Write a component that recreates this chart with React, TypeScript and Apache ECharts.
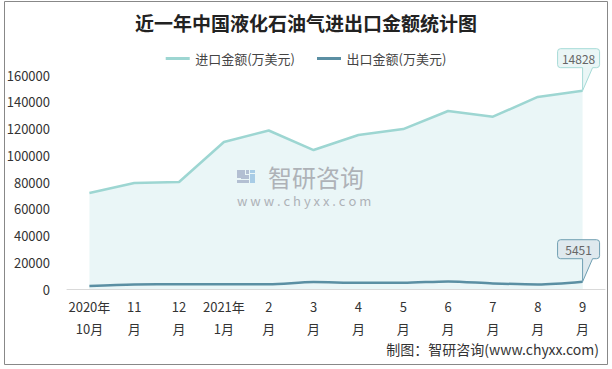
import React, { useEffect, useRef } from "react";
import * as echarts from "echarts";

const categories = ["2020年\n10月", "11\n月", "12\n月", "2021年\n1月", "2\n月", "3\n月", "4\n月", "5\n月", "6\n月", "7\n月", "8\n月", "9\n月"];
const importValues = [71800, 79300, 80000, 109900, 118500, 103900, 115100, 119600, 133100, 128800, 143600, 148280];
const exportValues = [2300, 3400, 3500, 3500, 3500, 5200, 4600, 4600, 5700, 4200, 3400, 5451];
const yTicks = [0, 20000, 40000, 60000, 80000, 100000, 120000, 140000, 160000];

const calloutPath = "path://M3,0 L39,0 Q42,0 42,3 L42,16 Q42,19 39,19 L35,19 L25,42 L25,19 L3,19 Q0,19 0,16 L0,3 Q0,0 3,0 Z";
const legendIcon = "path://M0,0 L24,0 L24,3 L0,3 Z";

export default function App() {
  const ref = useRef<HTMLDivElement>(null);
  useEffect(() => {
    document.body.style.margin = "0";
    const chart = echarts.init(ref.current!, null, { renderer: "svg" });
    const font = "'Noto Sans CJK SC', 'Noto Sans', sans-serif";
    const wm = "#aeb2b7";
    chart.setOption({
      animation: false,
      textStyle: { fontFamily: font },
      title: {
        text: "近一年中国液化石油气进出口金额统计图",
        left: "center",
        top: 8,
        textStyle: { fontSize: 19, fontWeight: "bold", color: "#222", fontFamily: font },
      },
      legend: {
        top: 47,
        left: "center",
        itemWidth: 25,
        itemHeight: 3,
        itemGap: 22,
        textStyle: { fontSize: 13, color: "#444" },
        data: [
          { name: "进口金额(万美元)", icon: legendIcon },
          { name: "出口金额(万美元)", icon: legendIcon },
        ],
      },
      grid: { left: 67, right: 7, top: 75, bottom: 80, containLabel: false },
      xAxis: {
        type: "category",
        data: categories,
        boundaryGap: true,
        axisLine: { lineStyle: { color: "#d9d9d9", width: 1 } },
        axisTick: { show: false },
        axisLabel: { color: "#333", fontSize: 13, lineHeight: 22, margin: 6, interval: 0 },
      },
      yAxis: {
        type: "value",
        min: yTicks[0],
        max: yTicks[yTicks.length - 1],
        interval: 20000,
        splitLine: { show: false },
        axisLine: { show: false },
        axisTick: { show: false },
        axisLabel: { color: "#333", fontSize: 13, margin: 17, formatter: (v: number) => String(v) },
      },
      graphic: [
        {
          type: "rect",
          shape: { x: 4.5, y: 1.5, width: 603, height: 363 },
          style: { fill: "none", stroke: "#888", lineWidth: 1 },
          silent: true,
          z: 0,
        },
        { type: "rect", z: 100, silent: true, shape: { x: 237, y: 170, width: 8, height: 8 }, style: { fill: "#b3bfd2" } },
        { type: "rect", z: 100, silent: true, shape: { x: 246, y: 170, width: 3, height: 4 }, style: { fill: "#b3bfd2" } },
        { type: "rect", z: 100, silent: true, shape: { x: 241, y: 175, width: 8, height: 4 }, style: { fill: "#b3bfd2" } },
        { type: "rect", z: 100, silent: true, shape: { x: 237, y: 180, width: 12, height: 3 }, style: { fill: "#b3bfd2" } },
        { type: "rect", z: 100, silent: true, shape: { x: 250, y: 174, width: 5, height: 9 }, style: { fill: "#a8cce6" } },
        { type: "rect", z: 100, silent: true, shape: { x: 250, y: 170, width: 5, height: 3 }, style: { fill: "#a8cce6" } },
        {
          type: "text",
          z: 100,
          silent: true,
          x: 268,
          y: 164,
          style: { text: "智研咨询", fontSize: 24, lineHeight: 24, fill: wm, fontFamily: font },
        },
        {
          type: "text",
          z: 100,
          silent: true,
          x: 237,
          y: 194,
          style: { text: "w w w . c h y x x . c o m", fontSize: 13, lineHeight: 13, fill: wm, fontFamily: font },
        },
        {
          type: "text",
          right: 13,
          top: 342,
          style: { text: "制图：智研咨询(www.chyxx.com)", fontSize: 14, fill: "#333", fontFamily: font },
        },
      ],
      series: [
        {
          name: "进口金额(万美元)",
          type: "line",
          data: importValues,
          symbol: "none",
          lineStyle: { color: "#9dd6d2", width: 2.5 },
          itemStyle: { color: "#9dd6d2" },
          areaStyle: { color: "#eaf6f7", opacity: 1 },
          z: 2,
          markPoint: {
            symbol: calloutPath,
            symbolSize: [42, 42],
            symbolOffset: [-4, -21],
            itemStyle: { color: "#eaf6f6", borderColor: "#a6dbd7", borderWidth: 1 },
            label: { show: true, position: "inside", offset: [0, -11.5], color: "#666", fontSize: 12, formatter: "14828" },
            data: [{ coord: [categories.length - 1, importValues[importValues.length - 1]] }],
          },
        },
        {
          name: "出口金额(万美元)",
          type: "line",
          data: exportValues,
          symbol: "none",
          smooth: 0.3,
          lineStyle: { color: "#5b8fa3", width: 2.5 },
          itemStyle: { color: "#5b8fa3" },
          areaStyle: { color: "#eaf6f7", opacity: 1 },
          z: 3,
          markPoint: {
            symbol: calloutPath,
            symbolSize: [42, 42],
            symbolOffset: [-4, -21],
            itemStyle: { color: "#dfe9ee", borderColor: "#6f9fb2", borderWidth: 1 },
            label: { show: true, position: "inside", offset: [0, -11.5], color: "#666", fontSize: 12, formatter: "{c}" },
            data: [{ coord: [categories.length - 1, exportValues[exportValues.length - 1]], value: exportValues[exportValues.length - 1] }],
          },
        },
      ],
    });
    return () => chart.dispose();
  }, []);
  return <div ref={ref} style={{ width: 612, height: 369 }} />;
}
